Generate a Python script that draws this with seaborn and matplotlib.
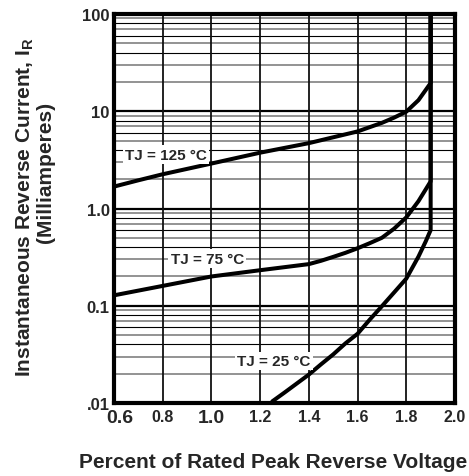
import numpy as np
import pandas as pd
import matplotlib
matplotlib.use("Agg")
import matplotlib.pyplot as plt
import matplotlib.transforms as mtransforms
import seaborn as sns

# -------------------------
# Curve readings (fraction of rated peak reverse voltage vs IR in mA)
# -------------------------
v_125 = [0.6, 0.7, 0.8, 1.0, 1.2, 1.4, 1.6, 1.7, 1.75, 1.8, 1.85, 1.9, 1.9]
ir_125 = [1.68, 1.95, 2.25, 2.9, 3.75, 4.7, 6.2, 7.6, 8.6, 9.9, 13.0, 19.5, 100]

v_75 = [0.6, 0.8, 1.0, 1.2, 1.4, 1.45, 1.5, 1.55, 1.6, 1.65, 1.7, 1.75, 1.8, 1.85, 1.9, 1.9]
ir_75 = [0.128, 0.16, 0.2, 0.232, 0.268, 0.29, 0.318, 0.35, 0.39, 0.44, 0.5, 0.62, 0.81, 1.19, 1.9, 100]

v_25 = [1.25, 1.3, 1.4, 1.45, 1.5, 1.55, 1.6, 1.65, 1.7, 1.75, 1.8, 1.85, 1.88, 1.9, 1.9]
ir_25 = [0.0104, 0.0128, 0.0196, 0.025, 0.0316, 0.041, 0.0515, 0.072, 0.099, 0.137, 0.19, 0.32, 0.46, 0.6, 100]

curve_names = ["125", "75", "25"]
curve_labels = ["TJ = 125 °C", "TJ = 75 °C", "TJ = 25 °C"]
label_pos = [(0.814, 3.59), (0.983, 0.306), (1.256, 0.0269)]

x_ticks = [0.6, 0.8, 1.0, 1.2, 1.4, 1.6, 1.8, 2.0]
x_ticklabels = ["0.6", "0.8", "1.0", "1.2", "1.4", "1.6", "1.8", "2.0"]
y_ticks = [0.01, 0.1, 1, 10, 100]
y_ticklabels = [".01", "0.1", "1.0", "10", "100"]

df = pd.concat([
    pd.DataFrame({"v": v_125, "ir": ir_125, "tj": "125"}),
    pd.DataFrame({"v": v_75, "ir": ir_75, "tj": "75"}),
    pd.DataFrame({"v": v_25, "ir": ir_25, "tj": "25"}),
], ignore_index=True)

sns.set_style("white")
plt.rcParams['font.family'] = ['Liberation Sans', 'DejaVu Sans']
plt.rcParams['font.weight'] = 'bold'
plt.rcParams['mathtext.fontset'] = 'custom'
plt.rcParams['mathtext.bf'] = 'Liberation Sans:bold'
plt.rcParams['mathtext.rm'] = 'Liberation Sans:bold'

fig = plt.figure(figsize=(4.69, 4.77), dpi=100)
ax = fig.add_axes([114 / 469, 1 - 404 / 477, (455 - 114) / 469, (404 - 15) / 477])

ax.set_yscale('log')
ax.set_xlim(0.6, 2.0)
ax.set_ylim(0.01, 100)

# -------------------------
# Grid: decades thick black, minors alternate gray/black
# -------------------------
for dec in [0.01, 0.1, 1, 10]:
    for m in range(2, 10):
        col = 'black' if m in (4, 6, 8) else '#808080'
        lw = 0.8 if m in (4, 6, 8) else 1.2
        ax.axhline(dec * m, color=col, lw=lw, zorder=1)
for dec in [0.1, 1, 10]:
    ax.axhline(dec, color='black', lw=1.6, zorder=1)
for xv in x_ticks[1:-1]:
    ax.axvline(xv, color='#111111', lw=1.3, zorder=1)

sns.lineplot(data=df, x="v", y="ir", hue="tj", hue_order=curve_names,
             palette=['black'] * 3, sort=False, estimator=None,
             linewidth=2.9, legend=False, ax=ax, zorder=3)

for txt, (lx, ly) in zip(curve_labels, label_pos):
    ax.text(lx, ly, txt, ha='center', va='center', fontsize=11,
            fontweight='bold', zorder=4,
            bbox=dict(boxstyle='square,pad=0.15', fc='white', ec='none'))

ax.set_xticks(x_ticks)
ax.set_xticklabels(x_ticklabels)
ax.set_yticks(y_ticks)
ax.set_yticklabels(y_ticklabels)
ax.minorticks_off()
ax.tick_params(axis='x', length=0, labelsize=11.5, pad=4)
ax.tick_params(axis='y', length=0, labelsize=12, pad=3)
for lab in ax.get_xticklabels():
    lab.set_fontweight('bold')
    if lab.get_text() in ("0.6", "1.0"):
        lab.set_fontsize(14)
for lab in ax.get_yticklabels():
    lab.set_fontweight('bold')

# first x label sits a little right of the axis edge
offset = mtransforms.ScaledTranslation(0.06, 0, fig.dpi_scale_trans)
first = ax.get_xticklabels()[0]
first.set_transform(first.get_transform() + offset)

ax.set_xlabel("")
ax.set_ylabel("")
for sp in ax.spines.values():
    sp.set_linewidth(3)
    sp.set_color('black')
    sp.set_zorder(5)

fig.text(273 / 469, 1 - 463 / 477, "Percent of Rated Peak Reverse Voltage",
         ha='center', va='center', fontsize=15, fontweight='bold')
fig.text(25 / 469, 1 - 207 / 477, r"Instantaneous Reverse Current, I$\mathbf{_R}$",
         ha='center', va='center', rotation=90, fontsize=15, fontweight='bold')
fig.text(46 / 469, 1 - 172 / 477, "(Milliamperes)",
         ha='center', va='center', rotation=90, fontsize=15, fontweight='bold')

fig.savefig("out.png", dpi=100)
